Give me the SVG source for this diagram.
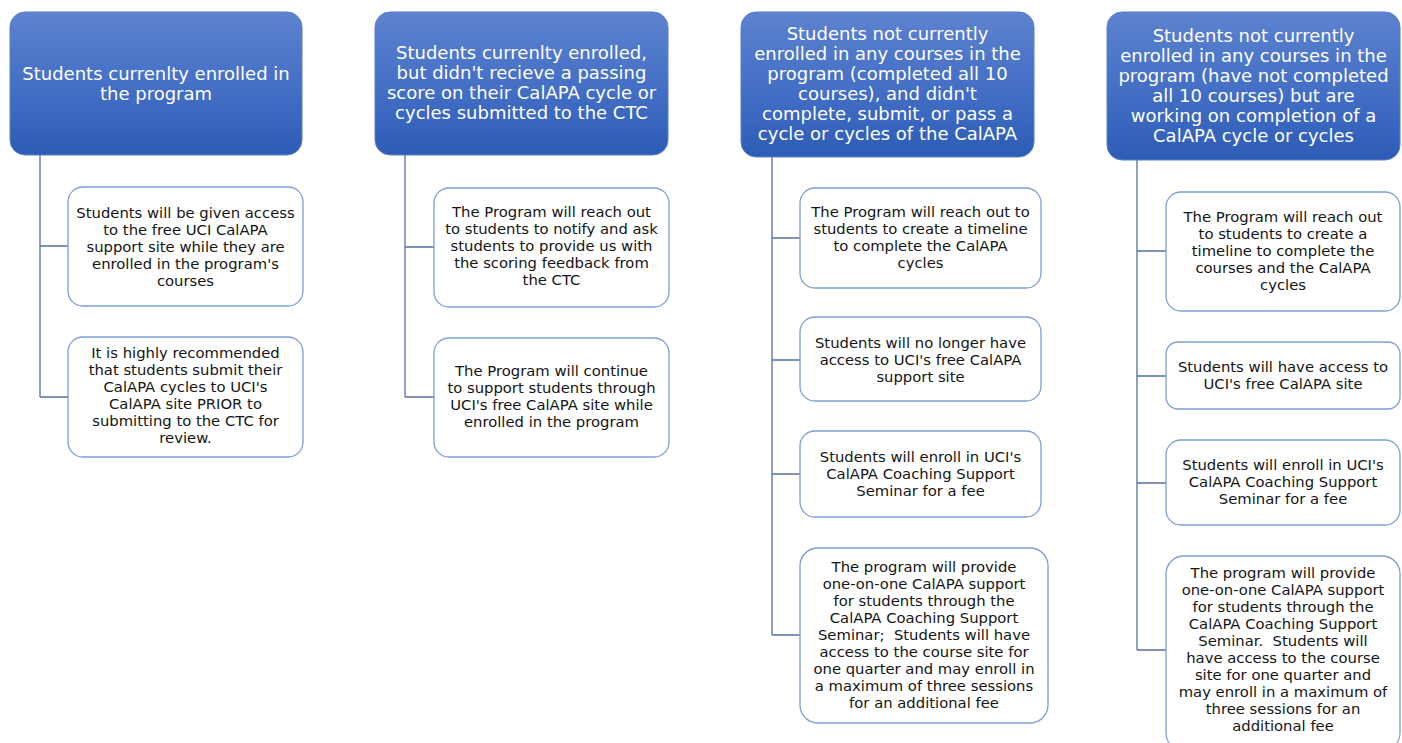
<svg xmlns="http://www.w3.org/2000/svg" width="1402" height="743" viewBox="0 0 1402 743">
<defs>
<linearGradient id="hg" x1="0" y1="0" x2="0" y2="1">
<stop offset="0" stop-color="#5d82cf"/>
<stop offset="0.5" stop-color="#4570c6"/>
<stop offset="1" stop-color="#2d5cb6"/>
</linearGradient>
</defs>
<style>
.hdr{fill:url(#hg);stroke:#5b7fc9;stroke-width:1}
.box{fill:#ffffff;stroke:#7f9dd6;stroke-width:1.3}
.ht{font-family:"DejaVu Sans","Liberation Sans",sans-serif;font-size:18px;fill:#ffffff;text-anchor:middle}
.bt{font-family:"DejaVu Sans","Liberation Sans",sans-serif;font-size:14.8px;fill:#141414;text-anchor:middle;white-space:pre}
.conn{fill:none;stroke:#56709f;stroke-width:1.3}
</style>
<rect width="1402" height="743" fill="#ffffff"/>
<g id="connectors" class="conn">
<path d="M40 155V397M40 246H68M40 397H68"/>
<path d="M405 155V397M405 247H434M405 397H434"/>
<path d="M772 157V635M772 238H800M772 360H800M772 474H800M772 635H800"/>
<path d="M1137 160V650M1137 251H1166M1137 376H1166M1137 483H1166M1137 650H1166"/>
</g>
<g id="h1">
<rect class="hdr" x="10" y="12" width="292" height="143" rx="15"/>
<text class="ht"><tspan x="156" y="79.5">Students currenlty enrolled in</tspan><tspan x="156" y="99.5">the program</tspan></text>
</g>
<g id="h1c1">
<rect class="box" x="68" y="187" width="235" height="119" rx="15"/>
<text class="bt"><tspan x="185.5" y="217.5">Students will be given access</tspan><tspan x="185.5" y="234.5">to the free UCI CalAPA</tspan><tspan x="185.5" y="251.5">support site while they are</tspan><tspan x="185.5" y="268.5">enrolled in the program's</tspan><tspan x="185.5" y="285.5">courses</tspan></text>
</g>
<g id="h1c2">
<rect class="box" x="68" y="337" width="235" height="120" rx="15"/>
<text class="bt"><tspan x="185.5" y="357.5">It is highly recommended</tspan><tspan x="185.5" y="374.5">that students submit their</tspan><tspan x="185.5" y="391.5">CalAPA cycles to UCI's</tspan><tspan x="185.5" y="408.5">CalAPA site PRIOR to</tspan><tspan x="185.5" y="425.5">submitting to the CTC for</tspan><tspan x="185.5" y="442.5">review.</tspan></text>
</g>
<g id="h2">
<rect class="hdr" x="375" y="12" width="293" height="143" rx="15"/>
<text class="ht"><tspan x="521.5" y="59">Students currenlty enrolled,</tspan><tspan x="521.5" y="79">but didn't recieve a passing</tspan><tspan x="521.5" y="99">score on their CalAPA cycle or</tspan><tspan x="521.5" y="119">cycles submitted to the CTC</tspan></text>
</g>
<g id="h2c1">
<rect class="box" x="434" y="188" width="235" height="119" rx="15"/>
<text class="bt"><tspan x="551.5" y="217">The Program will reach out</tspan><tspan x="551.5" y="234">to students to notify and ask</tspan><tspan x="551.5" y="251">students to provide us with</tspan><tspan x="551.5" y="268">the scoring feedback from</tspan><tspan x="551.5" y="285">the CTC</tspan></text>
</g>
<g id="h2c2">
<rect class="box" x="434" y="338" width="235" height="119" rx="15"/>
<text class="bt"><tspan x="551.5" y="375.5">The Program will continue</tspan><tspan x="551.5" y="392.5">to support students through</tspan><tspan x="551.5" y="409.5">UCI's free CalAPA site while</tspan><tspan x="551.5" y="426.5">enrolled in the program</tspan></text>
</g>
<g id="h3">
<rect class="hdr" x="741" y="12" width="293" height="145" rx="15"/>
<text class="ht"><tspan x="887.5" y="40">Students not currently</tspan><tspan x="887.5" y="60">enrolled in any courses in the</tspan><tspan x="887.5" y="80">program (completed all 10</tspan><tspan x="887.5" y="100">courses), and didn't</tspan><tspan x="887.5" y="120">complete, submit, or pass a</tspan><tspan x="887.5" y="140">cycle or cycles of the CalAPA</tspan></text>
</g>
<g id="h3c1">
<rect class="box" x="800" y="188" width="241" height="100" rx="15"/>
<text class="bt"><tspan x="920.5" y="216.5">The Program will reach out to</tspan><tspan x="920.5" y="233.5">students to create a timeline</tspan><tspan x="920.5" y="250.5">to complete the CalAPA</tspan><tspan x="920.5" y="267.5">cycles</tspan></text>
</g>
<g id="h3c2">
<rect class="box" x="800" y="317" width="241" height="84" rx="15"/>
<text class="bt"><tspan x="920.5" y="348">Students will no longer have</tspan><tspan x="920.5" y="365">access to UCI's free CalAPA</tspan><tspan x="920.5" y="382">support site</tspan></text>
</g>
<g id="h3c3">
<rect class="box" x="800" y="431" width="241" height="86" rx="15"/>
<text class="bt"><tspan x="920.5" y="462">Students will enroll in UCI's</tspan><tspan x="920.5" y="479">CalAPA Coaching Support</tspan><tspan x="920.5" y="496">Seminar for a fee</tspan></text>
</g>
<g id="h3c4">
<rect class="box" x="800" y="548" width="248" height="175" rx="18"/>
<text class="bt"><tspan x="924" y="572">The program will provide</tspan><tspan x="924" y="589">one-on-one CalAPA support</tspan><tspan x="924" y="606">for students through the</tspan><tspan x="924" y="623">CalAPA Coaching Support</tspan><tspan x="924" y="640">Seminar;  Students will have</tspan><tspan x="924" y="657">access to the course site for</tspan><tspan x="924" y="674">one quarter and may enroll in</tspan><tspan x="924" y="691">a maximum of three sessions</tspan><tspan x="924" y="708">for an additional fee</tspan></text>
</g>
<g id="h4">
<rect class="hdr" x="1107" y="12" width="293" height="148" rx="15"/>
<text class="ht"><tspan x="1253.5" y="42">Students not currently</tspan><tspan x="1253.5" y="62">enrolled in any courses in the</tspan><tspan x="1253.5" y="82">program (have not completed</tspan><tspan x="1253.5" y="102">all 10 courses) but are</tspan><tspan x="1253.5" y="122">working on completion of a</tspan><tspan x="1253.5" y="142">CalAPA cycle or cycles</tspan></text>
</g>
<g id="h4c1">
<rect class="box" x="1166" y="192" width="234" height="119" rx="15"/>
<text class="bt"><tspan x="1283" y="221.7">The Program will reach out</tspan><tspan x="1283" y="238.7">to students to create a</tspan><tspan x="1283" y="255.7">timeline to complete the</tspan><tspan x="1283" y="272.7">courses and the CalAPA</tspan><tspan x="1283" y="289.7">cycles</tspan></text>
</g>
<g id="h4c2">
<rect class="box" x="1166" y="342" width="234" height="67" rx="12"/>
<text class="bt"><tspan x="1283" y="371.5">Students will have access to</tspan><tspan x="1283" y="388.5">UCI's free CalAPA site</tspan></text>
</g>
<g id="h4c3">
<rect class="box" x="1166" y="440" width="234" height="85" rx="15"/>
<text class="bt"><tspan x="1283" y="470">Students will enroll in UCI's</tspan><tspan x="1283" y="487">CalAPA Coaching Support</tspan><tspan x="1283" y="504">Seminar for a fee</tspan></text>
</g>
<g id="h4c4">
<rect class="box" x="1166" y="556" width="234" height="195" rx="18"/>
<text class="bt"><tspan x="1283" y="577.5">The program will provide</tspan><tspan x="1283" y="594.5">one-on-one CalAPA support</tspan><tspan x="1283" y="611.5">for students through the</tspan><tspan x="1283" y="628.5">CalAPA Coaching Support</tspan><tspan x="1283" y="645.5">Seminar.  Students will</tspan><tspan x="1283" y="662.5">have access to the course</tspan><tspan x="1283" y="679.5">site for one quarter and</tspan><tspan x="1283" y="696.5">may enroll in a maximum of</tspan><tspan x="1283" y="713.5">three sessions for an</tspan><tspan x="1283" y="730.5">additional fee</tspan></text>
</g>
</svg>
